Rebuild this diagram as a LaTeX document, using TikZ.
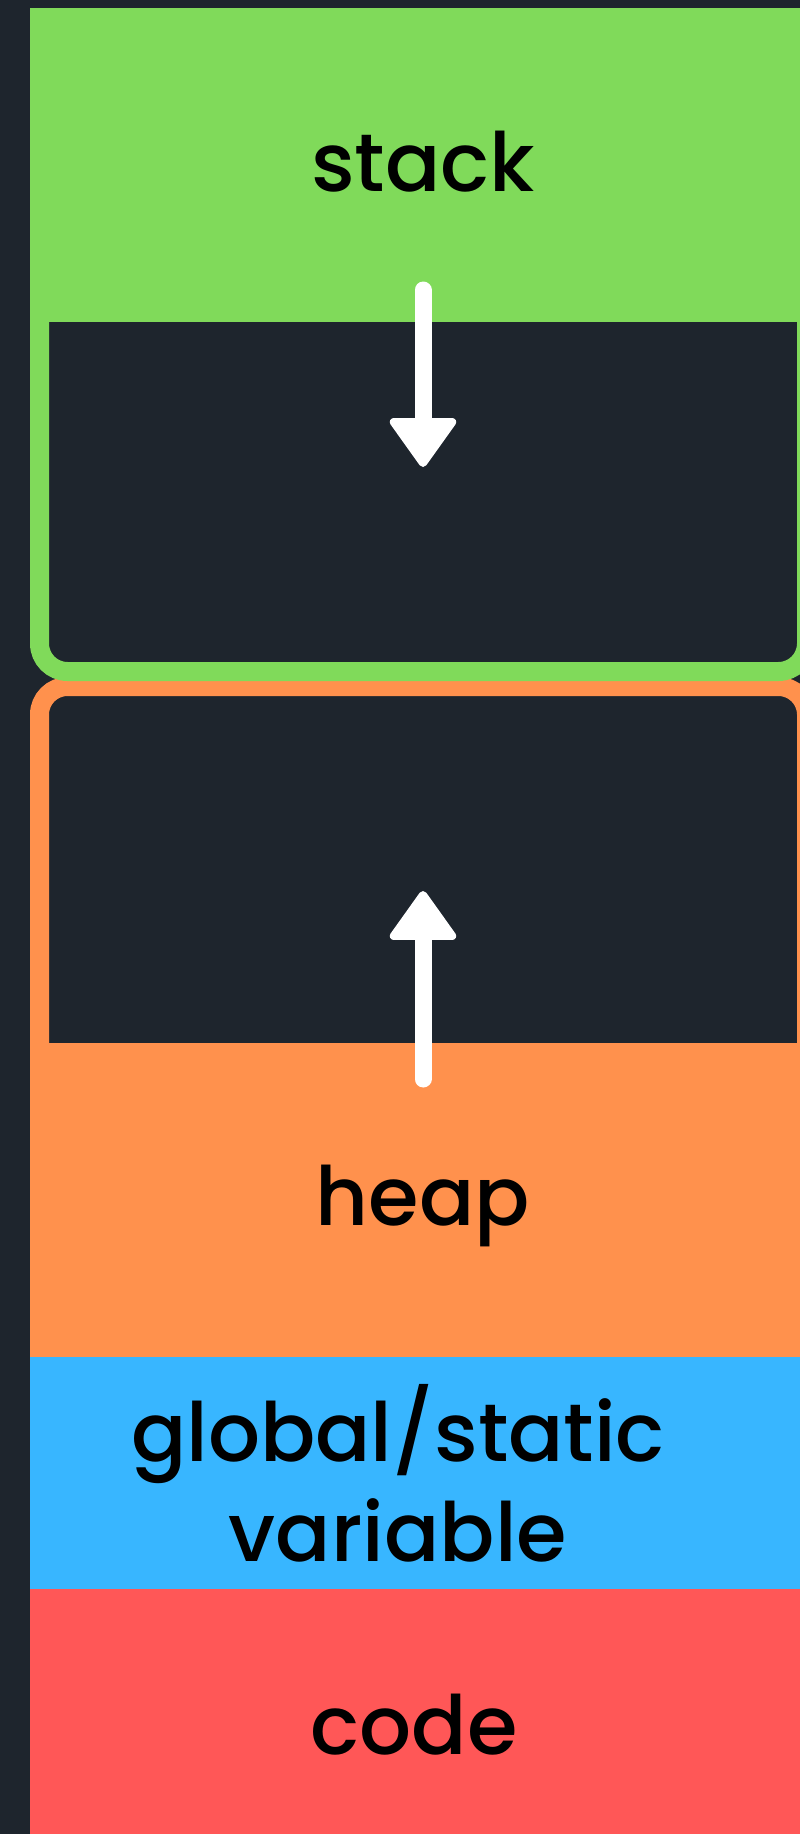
\documentclass[tikz,border=0pt]{standalone}
\usepackage{fontspec}
\setmainfont{Poppins Medium}
\usetikzlibrary{positioning, arrows.meta}

\definecolor{bgdark}{HTML}{1E252D}
\definecolor{stackgreen}{HTML}{80DA5A}
\definecolor{heaporange}{HTML}{FF914D}
\definecolor{globalblue}{HTML}{38B6FF}
\definecolor{codered}{HTML}{FF5757}

\begin{document}
\begin{tikzpicture}[
    x=1bp, y=-1bp,
    node distance=0bp,
    segment/.style={rectangle, inner sep=0pt, outer sep=0pt, minimum width=786bp},
    seglabel/.style={inner sep=0pt, text=black, align=center, anchor=base, font=\fontsize{82}{100}\selectfont},
    frame/.style={rectangle, rounded corners=28bp, line width=19bp, minimum width=767bp, inner sep=0pt, outer sep=0pt},
    growarrow/.style={white, line width=17bp, line cap=round, -{Triangle[length=52bp, width=72bp, round, line width=8bp]}},
]
    \fill[bgdark] (0,0) rectangle (800,1834);
    \useasboundingbox (0,0) rectangle (800,1834);

    % free space frames
    \node[frame, draw=heaporange, minimum height=420bp, anchor=north west] (heapframe) at (39.5,686.5) {};
    \node[frame, draw=stackgreen, minimum height=420bp, anchor=south west] (stackframe) at (39.5,671.5) {};

    % memory segments
    \node[segment, fill=stackgreen, minimum height=314bp, anchor=north west] (stack) at (30,8) {};
    \node[segment, fill=heaporange, minimum height=314bp, anchor=north west] (heap) at (30,1043) {};
    \node[segment, fill=globalblue, minimum height=232bp, below=of heap] (global) {};
    \node[segment, fill=codered, minimum height=260bp, below=of global] (code) {};

    \node[seglabel] (stacktext) at (423,191) {stack};
    \node[seglabel] (heaptext) at (423,1225) {heap};
    \node[seglabel] (globaltext) at (398,1561) {global/static\\variable};
    \node[seglabel] (codetext) at (414,1754) {code};

    % growth directions
    \coordinate (stacktop) at (423,290);
    \coordinate (stackend) at (423,467);
    \coordinate (heaptop) at (423,1079);
    \coordinate (heapend) at (423,891);
    \draw[growarrow] (stacktop) -- (stackend);
    \draw[growarrow] (heaptop) -- (heapend);
\end{tikzpicture}
\end{document}
